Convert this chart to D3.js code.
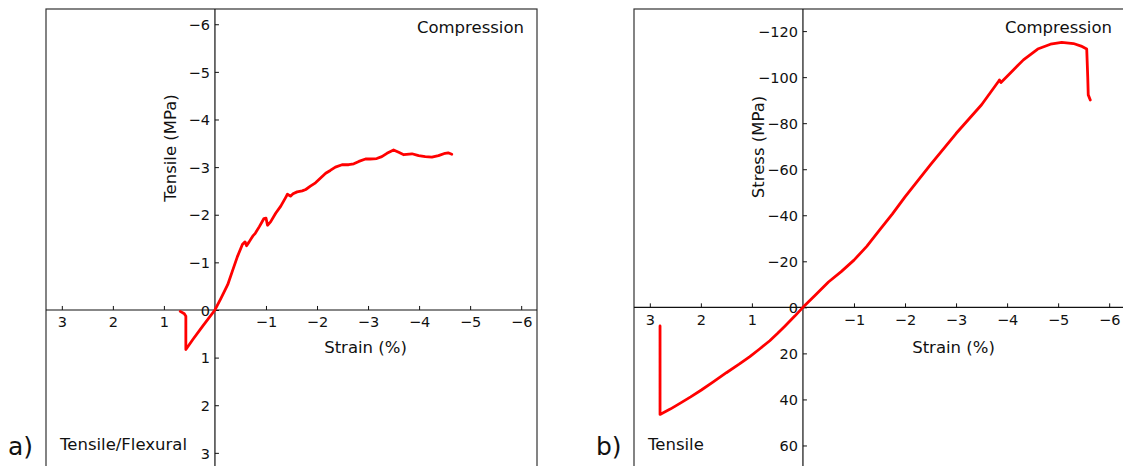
<!DOCTYPE html>
<html><head><meta charset="utf-8">
<script src="https://cdn.jsdelivr.net/npm/d3@7"></script>
<style>
html,body{margin:0;padding:0;background:#fff;overflow:hidden;}
text{font-family:"DejaVu Sans",sans-serif;fill:#111;}
</style></head>
<body>
<svg id="c" width="1123" height="466"></svg>
<script>
// ---- data ----
const strainTicks = [3, 2, 1, -1, -2, -3, -4, -5, -6];
const tensileTicksA = [-6, -5, -4, -3, -2, -1, 0, 1, 2, 3];
const stressTicksB = [-120, -100, -80, -60, -40, -20, 0, 20, 40, 60];

// panel a: strain (%) vs tensile (MPa)
const strainA = [0.68, 0.60, 0.57, 0.57, 0.44, 0.24, 0,
  -0.12, -0.25, -0.34, -0.44, -0.54, -0.59, -0.62, -0.67, -0.74, -0.79, -0.87, -0.96, -1.00, -1.03, -1.09,
  -1.19, -1.29, -1.39, -1.42, -1.48, -1.53, -1.61, -1.71, -1.78, -1.87, -1.97, -2.07, -2.17, -2.26, -2.36,
  -2.49, -2.62, -2.72, -2.82, -2.95, -3.04, -3.17, -3.27, -3.37, -3.50, -3.60, -3.70, -3.86, -3.99, -4.12,
  -4.25, -4.38, -4.51, -4.57, -4.64];
const stressA = [0.03, 0.08, 0.13, 0.83, 0.63, 0.34, 0,
  -0.25, -0.53, -0.81, -1.12, -1.38, -1.43, -1.35, -1.43, -1.55, -1.61, -1.75, -1.92, -1.93, -1.78, -1.85,
  -2.03, -2.18, -2.37, -2.43, -2.39, -2.44, -2.48, -2.50, -2.53, -2.60, -2.67, -2.77, -2.87, -2.93, -3.00,
  -3.05, -3.05, -3.07, -3.12, -3.17, -3.17, -3.18, -3.22, -3.29, -3.36, -3.31, -3.26, -3.28, -3.24, -3.22,
  -3.21, -3.24, -3.29, -3.30, -3.27];

// panel b: strain (%) vs stress (MPa)
const strainB = [2.80, 2.80, 2.60, 2.41, 2.20, 1.99, 1.75, 1.50, 1.25, 1.04, 0.85, 0.65, 0.50, 0.35, 0.16, 0,
  -0.25, -0.50, -0.75, -1.00, -1.25, -1.50, -1.75, -2.00, -2.50, -3.00, -3.50, -3.83, -3.85, -3.88,
  -4.06, -4.32, -4.60, -4.85, -5.07, -5.30, -5.45, -5.56, -5.58, -5.59, -5.63];
const stressB = [8.1, 46.5, 44.2, 41.7, 38.9, 35.9, 32.3, 28.4, 24.7, 21.4, 18.1, 14.5, 11.4, 8.1, 3.8, 0,
  -5.5, -11, -15.5, -20.5, -26.5, -33.5, -40.5, -48, -62, -75.5, -88, -98.1, -98.8, -97.7,
  -101.7, -107.5, -112.2, -114.3, -115.1, -114.6, -113.5, -112.2, -100, -92.3, -90.1];

const svg = d3.select("#c");
const fmt = d => d3.format("d")(d).replace("-", "\u2212");

function panel(cfg) {
  const g = svg.append("g");
  const x = d3.scaleLinear().domain([3.31, -6.31]).range([cfg.left, cfg.left + 491]);
  const y = d3.scaleLinear().domain(cfg.yDomain).range([9, 480]);
  const x0 = x(0), y0 = y(0);

  // frame
  g.append("rect").attr("x", cfg.left).attr("y", 9).attr("width", 491).attr("height", 471)
    .attr("fill", "none").attr("stroke", "#333").attr("stroke-width", 1.2);

  // x axis (ticks point up)
  const xa = d3.axisTop(x).tickValues(cfg.xTicks).tickSize(4).tickSizeOuter(0).tickFormat(fmt);
  const gx = g.append("g").attr("transform", `translate(0,${y0})`).call(xa);
  gx.select(".domain").remove();
  gx.selectAll(".tick line").attr("stroke", "#111").attr("stroke-width", 1);
  gx.selectAll(".tick text").attr("y", 17.5).attr("dy", 0).attr("font-size", 14.5)
    .attr("font-family", "DejaVu Sans").attr("fill", "#111");
  g.append("line").attr("x1", cfg.left).attr("x2", cfg.left + 491).attr("y1", y0).attr("y2", y0)
    .attr("stroke", "#111").attr("stroke-width", 1.2);

  // y axis (ticks point right)
  const ya = d3.axisRight(y).tickValues(cfg.yTicks).tickSize(4).tickSizeOuter(0).tickFormat(fmt);
  const gy = g.append("g").attr("transform", `translate(${x0},0)`).call(ya);
  gy.select(".domain").remove();
  gy.selectAll(".tick line").attr("stroke", "#111").attr("stroke-width", 1);
  gy.selectAll(".tick text").attr("x", -5).attr("dy", "0.36em").attr("text-anchor", "end")
    .attr("font-size", 14.5).attr("font-family", "DejaVu Sans").attr("fill", "#111");
  g.append("line").attr("x1", x0).attr("x2", x0).attr("y1", 9).attr("y2", 480)
    .attr("stroke", "#111").attr("stroke-width", 1.2);

  // curve
  const line = d3.line().x(d => x(d[0])).y(d => y(d[1]));
  g.append("path").datum(d3.zip(cfg.xs, cfg.ys)).attr("d", line)
    .attr("fill", "none").attr("stroke", "#ff0000").attr("stroke-width", 2.8)
    .attr("stroke-linejoin", "round").attr("stroke-linecap", "round");

  // labels
  g.append("text").attr("x", x(-2.95)).attr("y", 353).attr("text-anchor", "middle")
    .attr("font-size", 16.5).text("Strain (%)");
  g.append("text").attr("transform", `translate(${cfg.ylabX},${cfg.ylabY}) rotate(-90)`)
    .attr("text-anchor", "middle").attr("font-size", 16.5).text(cfg.ylab);
  g.append("text").attr("x", cfg.compX).attr("y", 33).attr("text-anchor", "end")
    .attr("font-size", 16.5).text("Compression");
  g.append("text").attr("x", cfg.left + 14).attr("y", 450).attr("font-size", 16.5).text(cfg.bottomText);
  g.append("text").attr("x", cfg.left - 38).attr("y", 455).attr("font-size", 25).text(cfg.tag);
}

panel({left: 46, yDomain: [-6.32, 3.57], xTicks: strainTicks, yTicks: tensileTicksA,
  xs: strainA, ys: stressA, ylab: "Tensile (MPa)", ylabX: 176, ylabY: 148,
  compX: 524, bottomText: "Tensile/Flexural", tag: "a)"});
panel({left: 634, yDomain: [-129.6, 75], xTicks: strainTicks, yTicks: stressTicksB,
  xs: strainB, ys: stressB, ylab: "Stress (MPa)", ylabX: 764, ylabY: 147,
  compX: 1112, bottomText: "Tensile", tag: "b)"});
</script>
</body></html>
